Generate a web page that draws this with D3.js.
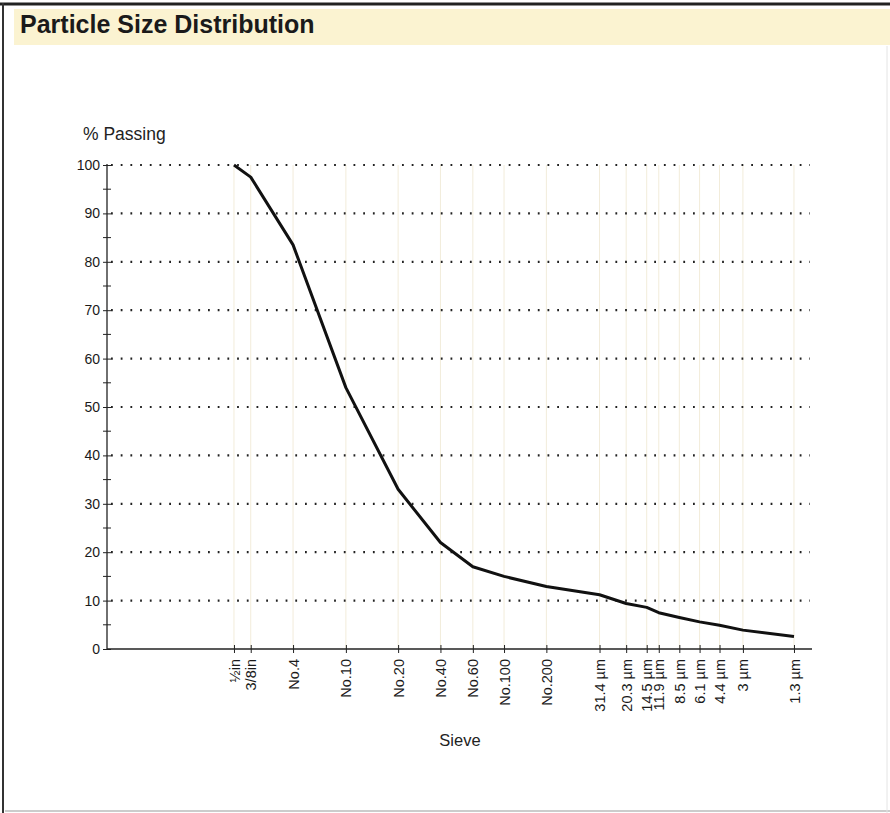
<!DOCTYPE html>
<html>
<head>
<meta charset="utf-8">
<script src="https://cdn.jsdelivr.net/npm/d3@7"></script>
<style>
  body { margin: 0; background: #fff; }
  svg { display: block; font-family: "Liberation Sans", Arial, sans-serif; }
</style>
</head>
<body>
<div id="chart"></div>
<script>
// sieve labels, matching particle size in mm, and % passing
let sieves = ["½in", "3/8in", "No.4", "No.10", "No.20", "No.40", "No.60", "No.100", "No.200",
    "31.4 µm", "20.3 µm", "14.5 µm", "11.9 µm", "8.5 µm", "6.1 µm", "4.4 µm", "3 µm", "1.3 µm"];
let sizesMm = [12.5, 9.5, 4.75, 2.0, 0.85, 0.425, 0.25, 0.15, 0.075,
    0.0314, 0.0203, 0.0145, 0.0119, 0.0085, 0.0061, 0.0044, 0.003, 0.0013];
let passing = [100, 97.5, 83.5, 54, 33, 22, 17, 15, 12.9,
    11.2, 9.4, 8.6, 7.5, 6.5, 5.6, 4.9, 3.9, 2.6];
let yTicks = [0, 10, 20, 30, 40, 50, 60, 70, 80, 90, 100];
let yMinor = [5, 15, 25, 35, 45, 55, 65, 75, 85, 95];

function main(){
    let width = 890, height = 813;

    let svg = d3.select("#chart").append("svg")
        .attr("width", width)
        .attr("height", height);

    // page frame
    svg.append("line").attr("x1", 0).attr("x2", width).attr("y1", 4).attr("y2", 4)
        .attr("stroke", "#222").attr("stroke-width", 3);
    svg.append("line").attr("x1", 3).attr("x2", 3).attr("y1", 3).attr("y2", height)
        .attr("stroke", "#333").attr("stroke-width", 2);
    svg.append("line").attr("x1", 5).attr("x2", width).attr("y1", 811).attr("y2", 811)
        .attr("stroke", "#bbb").attr("stroke-width", 1.5);
    svg.append("line").attr("x1", 887).attr("x2", 887).attr("y1", 46).attr("y2", height)
        .attr("stroke", "#e4e4e4").attr("stroke-width", 1);

    // title bar
    svg.append("rect")
        .attr("x", 14).attr("y", 9)
        .attr("width", width - 14).attr("height", 36)
        .attr("fill", "#fbf3d1");
    svg.append("text")
        .attr("x", 20).attr("y", 33)
        .attr("font-size", 25)
        .attr("font-weight", "bold")
        .attr("fill", "#1a1a1a")
        .text("Particle Size Distribution");

    let xScale = d3.scaleLog().domain([100, 0.001]).range([107, 810]);
    let yScale = d3.scaleLinear().domain([0, 100]).range([649, 165]);

    let g = svg.append("g");

    // vertical faint grid at each sieve
    g.selectAll(".vgrid")
        .data(sizesMm)
        .enter()
        .append("line")
        .attr("x1", d => xScale(d)).attr("x2", d => xScale(d))
        .attr("y1", yScale(100)).attr("y2", yScale(0))
        .attr("stroke", "#f2ecda")
        .attr("stroke-width", 1);

    // dotted horizontal grid
    g.selectAll(".hgrid")
        .data(yTicks.slice(1))
        .enter()
        .append("line")
        .attr("x1", xScale(100) + 4).attr("x2", 810)
        .attr("y1", d => yScale(d)).attr("y2", d => yScale(d))
        .attr("stroke", "#222")
        .attr("stroke-width", 2.2)
        .attr("stroke-dasharray", "1.8,7.9");

    // y axis
    let yAxis = g.append("g")
        .attr("transform", "translate(" + xScale(100) + ",0)")
        .call(d3.axisLeft(yScale).tickValues(yTicks).tickSize(4).tickPadding(3));
    yAxis.select(".domain").attr("stroke", "#222").attr("stroke-width", 1.3)
        .attr("d", "M0," + (yScale(100) - 1) + "V" + yScale(0));
    yAxis.selectAll(".tick line").attr("x1", 4).attr("x2", -4).attr("stroke", "#222");
    yAxis.selectAll(".tick text").attr("font-size", 14).attr("fill", "#1a1a1a")
        .attr("font-family", "Liberation Sans, Arial, sans-serif");
    yAxis.selectAll(".minor")
        .data(yMinor)
        .enter()
        .append("line")
        .attr("x1", -4).attr("x2", 4)
        .attr("y1", d => yScale(d)).attr("y2", d => yScale(d))
        .attr("stroke", "#222");

    // x axis
    let xAxis = g.append("g")
        .attr("transform", "translate(0," + yScale(0) + ")")
        .call(d3.axisBottom(xScale).tickValues(sizesMm)
            .tickFormat((d, i) => sieves[i]).tickSize(4).tickPadding(6));
    xAxis.select(".domain").attr("stroke", "#222").attr("stroke-width", 1.3)
        .attr("d", "M" + xScale(100) + ",0H812");
    xAxis.selectAll(".tick line").attr("y1", -4).attr("y2", 4).attr("stroke", "#222");
    xAxis.selectAll(".tick text")
        .attr("font-size", 14.5)
        .attr("fill", "#1a1a1a")
        .attr("font-family", "Liberation Sans, Arial, sans-serif")
        .attr("text-anchor", "end")
        .attr("transform", "rotate(-90)")
        .attr("x", -10)
        .attr("y", 0)
        .attr("dy", "0.35em");

    // axis titles
    svg.append("text")
        .attr("x", 83).attr("y", 140)
        .attr("font-size", 17.5)
        .attr("fill", "#222")
        .text("% Passing");
    svg.append("text")
        .attr("x", 460).attr("y", 746)
        .attr("text-anchor", "middle")
        .attr("font-size", 16.5)
        .attr("fill", "#222")
        .text("Sieve");

    // the curve
    let line = d3.line()
        .x((d, i) => xScale(sizesMm[i]))
        .y(d => yScale(d));

    g.append("path")
        .attr("d", line(passing))
        .attr("fill", "none")
        .attr("stroke", "#111")
        .attr("stroke-width", 3)
        .attr("stroke-linejoin", "round");
}

main();
</script>
</body>
</html>
